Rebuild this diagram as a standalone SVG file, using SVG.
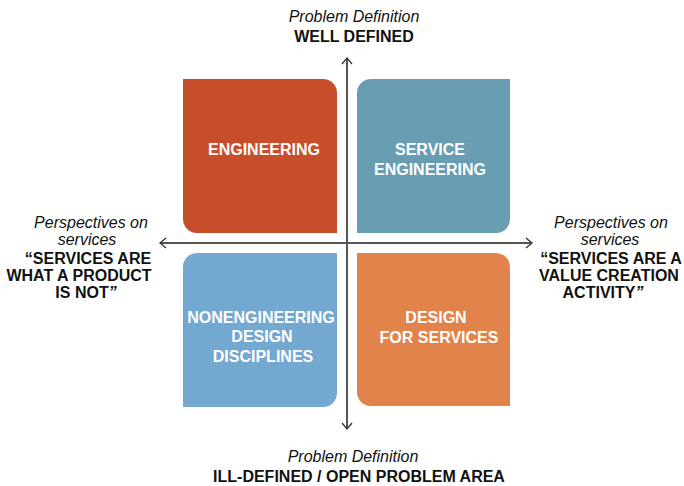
<svg xmlns="http://www.w3.org/2000/svg" width="684" height="486" viewBox="0 0 684 486">
<style>
text{font-family:"Liberation Sans",Arial,Helvetica,sans-serif;font-size:16px;fill:#111;text-anchor:middle}
.it{font-style:italic}
.b{font-weight:bold}
.w{font-weight:bold;fill:#ffffff}
.axis{stroke:#555;stroke-width:2;fill:none}
</style>
<defs>
<marker id="arr" markerUnits="userSpaceOnUse" viewBox="-8 -7 10 14" refX="0" refY="0" markerWidth="10" markerHeight="14" orient="auto-start-reverse">
<path d="M-6,-5 L0,0 L-6,5" fill="none" stroke="#333" stroke-width="1.3"/>
</marker>
</defs>
<rect width="684" height="486" fill="#ffffff"/>
<g id="engineering">
<path d="M183,79 H323 A14,14 0 0 1 337,93 V233 H197 A14,14 0 0 1 183,219 Z" fill="#C84E2B"/>
<text class="w" x="264" y="155">ENGINEERING</text>
</g>
<g id="service-engineering">
<path d="M371,79 H510 V219 A14,14 0 0 1 496,233 H357 V93 A14,14 0 0 1 371,79 Z" fill="#699DB2"/>
<text class="w" x="430" y="155">SERVICE</text>
<text class="w" x="430" y="175">ENGINEERING</text>
</g>
<g id="nonengineering">
<path d="M197,253 H337 V393 A14,14 0 0 1 323,407 H183 V267 A14,14 0 0 1 197,253 Z" fill="#73A8D1"/>
<text class="w" x="261" y="323">NONENGINEERING</text>
<text class="w" x="262" y="342">DESIGN</text>
<text class="w" x="263" y="362">DISCIPLINES</text>
</g>
<g id="design-for-services">
<path d="M357,253 H496 A14,14 0 0 1 510,267 V406 H371 A14,14 0 0 1 357,392 Z" fill="#E1834B"/>
<text class="w" x="436" y="323">DESIGN</text>
<text class="w" x="439" y="343">FOR SERVICES</text>
</g>
<g id="connectors">
<line class="axis" x1="347" y1="58" x2="347" y2="429" marker-start="url(#arr)" marker-end="url(#arr)"/>
<line class="axis" x1="160" y1="243" x2="532" y2="243" marker-start="url(#arr)" marker-end="url(#arr)"/>
</g>
<g id="top-label">
<text class="it" x="354" y="22">Problem Definition</text>
<text class="b" x="354" y="42">WELL DEFINED</text>
</g>
<g id="bottom-label">
<text class="it" x="353" y="462">Problem Definition</text>
<text class="b" x="359" y="482">ILL-DEFINED / OPEN PROBLEM AREA</text>
</g>
<g id="left-label">
<text class="it" x="91" y="228">Perspectives on</text>
<text class="it" x="87" y="245">services</text>
<text class="b" x="88" y="264">“SERVICES ARE</text>
<text class="b" x="79" y="281">WHAT A PRODUCT</text>
<text class="b" x="86" y="298">IS NOT<tspan class="it">”</tspan></text>
</g>
<g id="right-label">
<text class="it" x="611" y="228">Perspectives on</text>
<text class="it" x="610" y="245">services</text>
<text class="b" x="611" y="264">“SERVICES ARE A</text>
<text class="b" x="609" y="281">VALUE CREATION</text>
<text class="b" x="603" y="298">ACTIVITY<tspan class="it">”</tspan></text>
</g>
</svg>
